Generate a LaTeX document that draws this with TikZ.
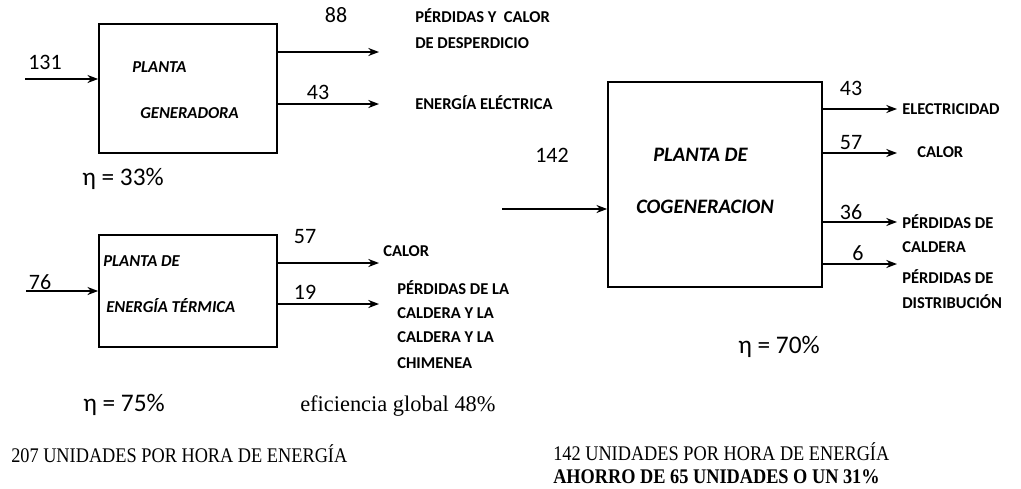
\documentclass[tikz,border=0pt]{standalone}
\usepackage{fontspec}
\setmainfont{Liberation Serif}
\newfontfamily\calibri{Carlito}
\newfontfamily\narrowserif[FakeStretch=0.88]{Liberation Serif}
\usetikzlibrary{arrows.meta}
\tikzstyle{arrow} = [line width=1.4pt,-{Stealth[length=8pt,width=6pt]}]
\tikzstyle{plant} = [draw, line width=1.3pt, inner sep=0pt]
\tikzstyle{qty} = [font=\calibri\fontsize{16.5}{18}\selectfont, inner sep=0pt]
\tikzstyle{lbl} = [font=\calibri\bfseries\fontsize{12.4}{14}\selectfont, inner sep=0pt, anchor=base west]
\tikzstyle{plantname} = [font=\calibri\bfseries\itshape\fontsize{12.5}{14}\selectfont, inner sep=0pt, anchor=base west]
\tikzstyle{eta} = [font=\calibri\fontsize{19}{21}\selectfont, inner sep=0pt, anchor=base west]
\tikzstyle{note} = [font=\narrowserif\fontsize{15.6}{18}\selectfont, inner sep=0pt, anchor=base west]

\begin{document}
\begin{tikzpicture}[x=0.75pt, y=-0.75pt]
  \useasboundingbox (0,0) rectangle (1021,489);

  % Planta generadora
  \node[plant, minimum width=133.5pt, minimum height=96.75pt] (gen) at (188,88.5) {};
  \node[plantname] (genA) at (132,72) {PLANTA};
  \node[plantname] (genB) at (140,118) {GENERADORA};
  \coordinate (genin) at (25,79);
  \coordinate (genout1) at (379,52);
  \coordinate (genout2) at (379,104);
  \draw[arrow] (genin) -- (genin -| gen.west);
  \draw[arrow] (genout1 -| gen.east) -- (genout1);
  \draw[arrow] (genout2 -| gen.east) -- (genout2);
  \node[qty] (gen131) at (45,62) {131};
  \node[qty] (gen88) at (336,15) {88};
  \node[qty] (gen43) at (318,92) {43};
  \node[lbl] (genL1) at (415,22) {PÉRDIDAS Y\ \ CALOR};
  \node[lbl] (genL2) at (415,48) {DE DESPERDICIO};
  \node[lbl] (genL3) at (415,109) {ENERGÍA ELÉCTRICA};
  \node[eta] (genEta) at (82,185) {η = 33\%};

  % Planta de energia termica
  \node[plant, minimum width=133.5pt, minimum height=84pt] (ter) at (188,291) {};
  \node[plantname] (terA) at (103,266) {PLANTA DE};
  \node[plantname] (terB) at (106,312) {ENERGÍA TÉRMICA};
  \coordinate (terin) at (26,291);
  \coordinate (terout1) at (379,263);
  \coordinate (terout2) at (379,304);
  \draw[arrow] (terin) -- (terin -| ter.west);
  \draw[arrow] (terout1 -| ter.east) -- (terout1);
  \draw[arrow] (terout2 -| ter.east) -- (terout2);
  \node[qty] (ter76) at (40,282) {76};
  \node[qty] (ter57) at (305,237) {57};
  \node[qty] (ter19) at (305,292) {19};
  \node[lbl] (terL1) at (383,256) {CALOR};
  \node[lbl] (terL2) at (397,294) {PÉRDIDAS DE LA};
  \node[lbl] (terL3) at (397,318) {CALDERA Y LA};
  \node[lbl] (terL4) at (397,342) {CALDERA Y LA};
  \node[lbl] (terL5) at (397,368) {CHIMENEA};
  \node[eta] (terEta) at (83,411) {η = 75\%};
  \node[note, font=\rmfamily\fontsize{16.8}{18}\selectfont] (glob) at (300,411) {eficiencia global 48\%};
  \node[note] (sum1) at (11,462) {207 UNIDADES POR HORA DE ENERGÍA};

  % Planta de cogeneracion
  \node[plant, minimum width=160.5pt, minimum height=153.75pt] (cog) at (715,184.5) {};
  \node[plantname, font=\calibri\bfseries\itshape\fontsize{15.4}{17}\selectfont] (cogA) at (653,161) {PLANTA DE};
  \node[plantname, font=\calibri\bfseries\itshape\fontsize{15.4}{17}\selectfont] (cogB) at (636,213) {COGENERACION};
  \coordinate (cogin) at (502,209);
  \coordinate (cogout1) at (897,109);
  \coordinate (cogout2) at (897,153);
  \coordinate (cogout3) at (897,222);
  \coordinate (cogout4) at (897,264);
  \draw[arrow] (cogin) -- (cogin -| cog.west);
  \draw[arrow] (cogout1 -| cog.east) -- (cogout1);
  \draw[arrow] (cogout2 -| cog.east) -- (cogout2);
  \draw[arrow] (cogout3 -| cog.east) -- (cogout3);
  \draw[arrow] (cogout4 -| cog.east) -- (cogout4);
  \node[qty] (cog142) at (552,155) {142};
  \node[qty] (cog43) at (851,88) {43};
  \node[qty] (cog57) at (851,143) {57};
  \node[qty] (cog36) at (851,212) {36};
  \node[qty] (cog6) at (858,253) {6};
  \node[lbl] (cogL1) at (902,114) {ELECTRICIDAD};
  \node[lbl] (cogL2) at (917,157) {CALOR};
  \node[lbl] (cogL3) at (902,228) {PÉRDIDAS DE};
  \node[lbl] (cogL4) at (902,252) {CALDERA};
  \node[lbl] (cogL5) at (902,283) {PÉRDIDAS DE};
  \node[lbl] (cogL6) at (902,308) {DISTRIBUCIÓN};
  \node[eta] (cogEta) at (738,353) {η = 70\%};
  \node[note] (sum2) at (553,460) {142 UNIDADES POR HORA DE ENERGÍA};
  \node[note, font=\narrowserif\bfseries\fontsize{15.6}{18}\selectfont] (sum3) at (553,483) {AHORRO DE 65 UNIDADES O UN 31\%};

\end{tikzpicture}
\end{document}
